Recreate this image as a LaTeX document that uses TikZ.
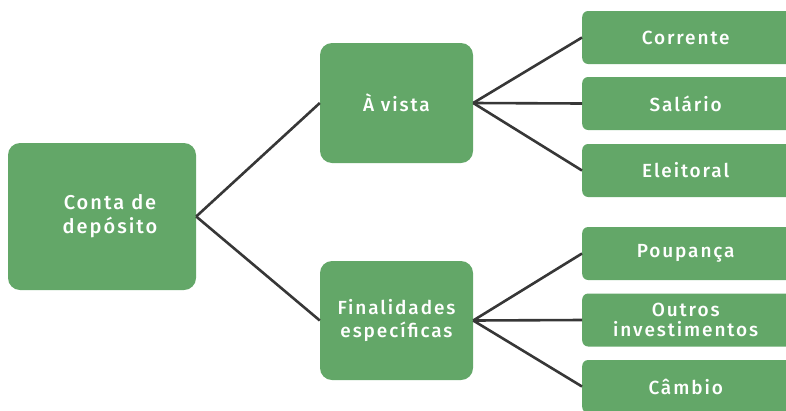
\documentclass[tikz,border=0pt]{standalone}
\usepackage{fontspec}
\setmainfont{Fira Sans}[LetterSpace=10,UprightFont=* Medium]
\definecolor{boxgreen}{RGB}{99,167,104}
\definecolor{linegray}{RGB}{55,55,55}
\tikzset{
  box/.style={fill=boxgreen, draw=none, text=white, align=center, inner sep=0pt, font=\fontsize{19}{22}\selectfont},
  bigbox/.style={box, rounded corners=12pt},
  leafbox/.style={box, rounded corners=6pt, minimum width=216pt, minimum height=53pt},
  conn/.style={draw=linegray, line width=2.6pt}
}
\begin{document}
\begin{tikzpicture}[x=1pt,y=-1pt]
\useasboundingbox (0,0) rectangle (786,410);
\clip (0,0) rectangle (786,410);
\node[bigbox, minimum width=188pt, minimum height=147pt] (root) at (102,216.5) {};
\node[text=white, align=center, inner sep=0pt, font=\fontsize{20}{24}\selectfont] (roottxt) at (110,216) {Conta de\\depósito};
\node[bigbox, minimum width=153pt, minimum height=120pt] (av) at (396.5,103) {À vista};
\node[bigbox, minimum width=153pt, minimum height=119pt, font=\fontsize{19}{23}\selectfont] (fin) at (396.5,320.5) {Finalidades\\específicas};
\node[leafbox, anchor=west] (cor) at (582,37.5) {\hspace*{-9pt}Corrente};
\node[leafbox, anchor=west] (sal) at (582,103.5) {\hspace*{-9pt}Salário};
\node[leafbox, anchor=west] (ele) at (582,170.5) {\hspace*{-9pt}Eleitoral};
\node[leafbox, anchor=west] (pou) at (582,253.5) {\hspace*{-9pt}Poupança};
\node[leafbox, anchor=west, font=\fontsize{19}{20}\selectfont] (out) at (582,320) {\hspace*{-9pt}Outros\\\hspace*{-9pt}investimentos};
\node[leafbox, anchor=west] (cam) at (582,386.5) {\hspace*{-9pt}Câmbio};
\draw[conn] (root.east) -- (av.west);
\draw[conn] (root.east) -- (fin.west);
\draw[conn] (av.east) -- (cor.west);
\draw[conn] (av.east) -- (sal.west);
\draw[conn] (av.east) -- (ele.west);
\draw[conn] (fin.east) -- (pou.west);
\draw[conn] (fin.east) -- (out.west);
\draw[conn] (fin.east) -- (cam.west);
\end{tikzpicture}
\end{document}
